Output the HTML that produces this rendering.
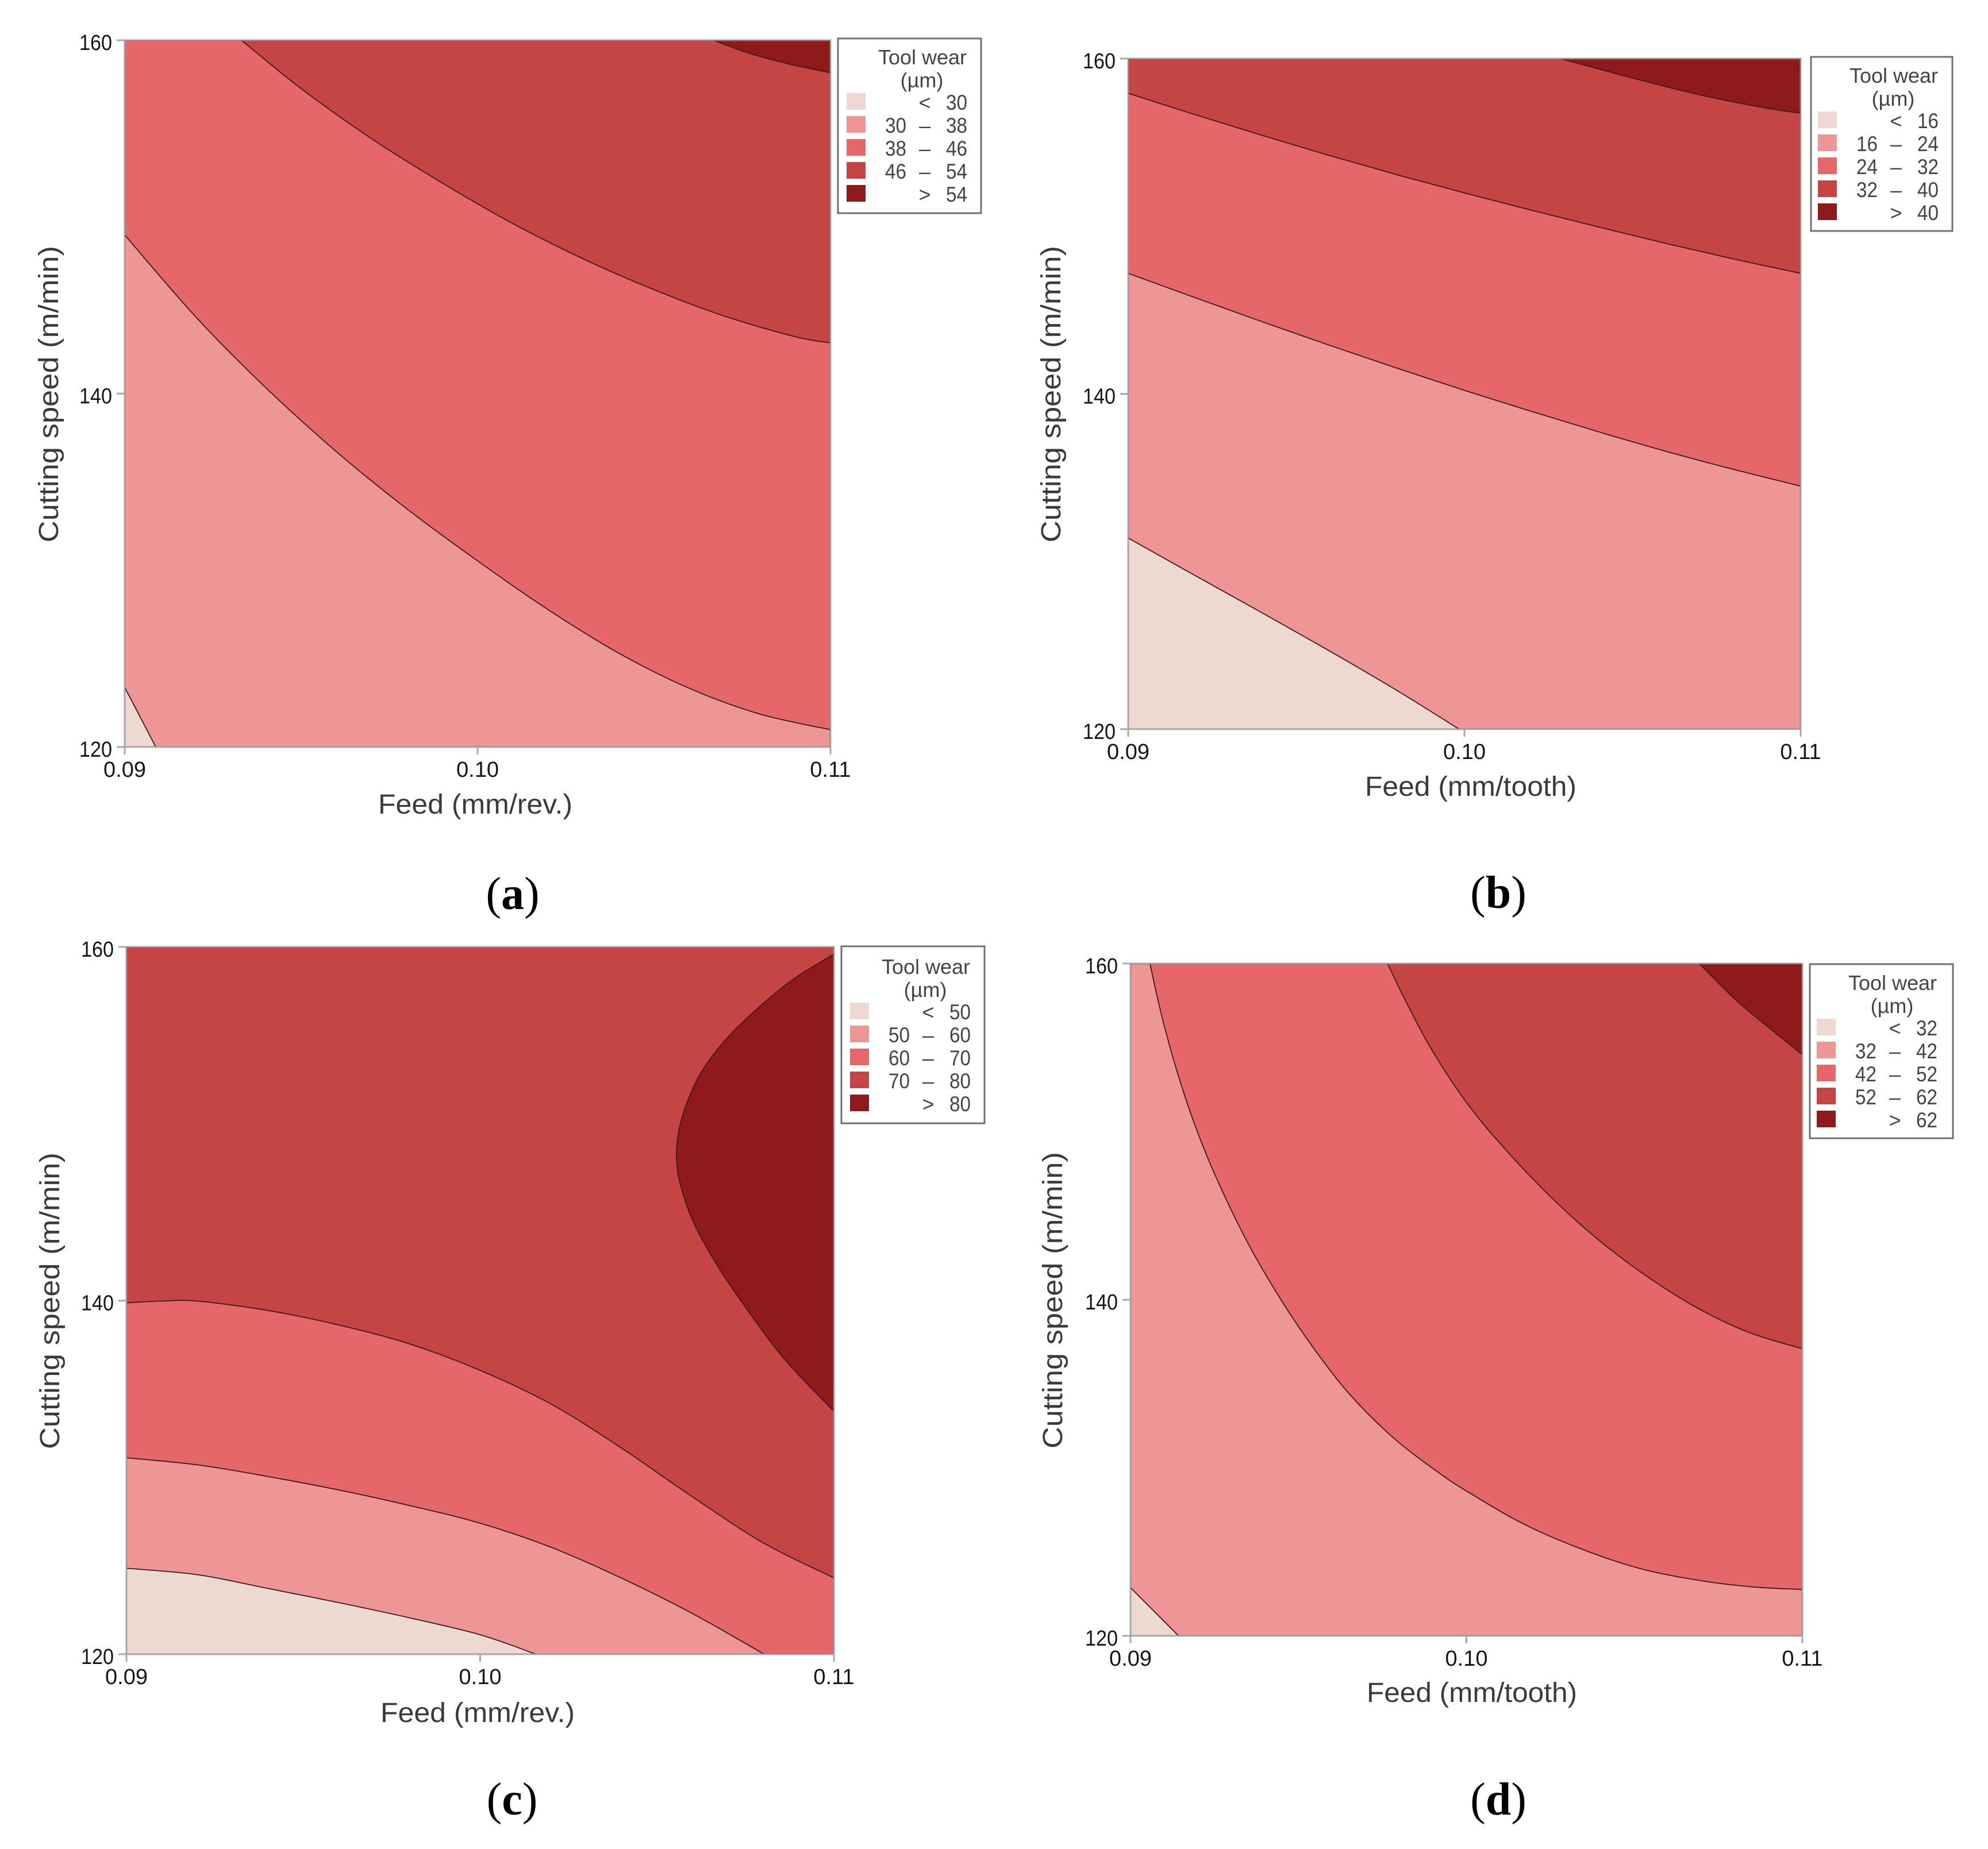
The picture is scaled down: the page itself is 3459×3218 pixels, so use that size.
<!DOCTYPE html>
<html lang="en">
<head>
<meta charset="utf-8">
<title>Tool wear contour plots</title>
<style>
html,body{margin:0;padding:0;background:#fff;}
svg{display:block;}
text{font-family:"Liberation Sans",sans-serif;}
</style>
</head>
<body>
<svg id="figure" xmlns="http://www.w3.org/2000/svg" width="3459" height="3218" viewBox="0 0 3459 3218"></svg>
<script>
/* shared axes data */
const feedTicks = [0.09, 0.10, 0.11];
const feedTickLabels = ["0.09", "0.10", "0.11"];
const speedTicks = [120, 140, 160];
const speedTickLabels = ["120", "140", "160"];

/* panel (a) contours: feed (mm/rev.) and cutting speed (m/min) */
const aBreaks = [30, 38, 46, 54];
const aFeed1 = [0.09, 0.09088];
const aSpeed1 = [123.37, 120];
const aFeed2 = [0.09, 0.092, 0.094, 0.096, 0.098, 0.100, 0.102, 0.104, 0.106, 0.108, 0.11];
const aSpeed2 = [148.98, 144.37, 140.33, 136.71, 133.47, 130.53, 127.77, 125.31, 123.32, 121.86, 120.98];
const aFeed3 = [0.09331, 0.095, 0.097, 0.099, 0.101, 0.103, 0.105, 0.107, 0.109, 0.11];
const aSpeed3 = [160, 157.26, 154.42, 151.92, 149.62, 147.62, 145.88, 144.38, 143.22, 142.87];
const aFeed4 = [0.10669, 0.10768, 0.10894, 0.11];
const aSpeed4 = [160, 159.27, 158.60, 158.16];

/* panel (b) contours */
const bBreaks = [16, 24, 32, 40];
const bFeed1 = [0.09, 0.092, 0.094, 0.096, 0.098, 0.09984];
const bSpeed1 = [131.40, 129.15, 126.92, 124.65, 122.30, 120];
const bFeed2 = [0.09, 0.092, 0.094, 0.096, 0.098, 0.100, 0.102, 0.104, 0.106, 0.108, 0.11];
const bSpeed2 = [147.19, 145.73, 144.29, 142.89, 141.53, 140.21, 138.95, 137.73, 136.57, 135.50, 134.50];
const bFeed3 = [0.09, 0.092, 0.094, 0.096, 0.098, 0.100, 0.102, 0.104, 0.106, 0.108, 0.11];
const bSpeed3 = [157.93, 156.65, 155.41, 154.21, 153.07, 151.99, 150.95, 149.95, 148.97, 148.05, 147.19];
const bFeed4 = [0.10286, 0.105, 0.107, 0.109, 0.11];
const bSpeed4 = [160, 158.84, 157.84, 157.04, 156.75];

/* panel (c) contours */
const cBreaks = [50, 60, 70, 80];
const cFeed1 = [0.09, 0.092, 0.094, 0.096, 0.098, 0.100, 0.10158];
const cSpeed1 = [124.86, 124.50, 123.72, 122.92, 122.06, 121.10, 120];
const cFeed2 = [0.09, 0.092, 0.094, 0.096, 0.098, 0.100, 0.102, 0.104, 0.106, 0.10803];
const cSpeed2 = [131.11, 130.71, 130.05, 129.29, 128.41, 127.41, 126.05, 124.30, 122.30, 120];
const cFeed3 = [0.09, 0.091, 0.092, 0.094, 0.096, 0.098, 0.100, 0.102, 0.104, 0.106, 0.108, 0.11];
const cSpeed3 = [139.87, 139.97, 139.97, 139.44, 138.62, 137.55, 136.05, 134.15, 131.65, 128.90, 126.30, 124.32];
const cFeed4 = [0.11, 0.10883, 0.10785, 0.10695, 0.10624, 0.10582, 0.10561, 0.10555, 0.10564, 0.10600, 0.10668, 0.10758, 0.10865, 0.11];
const cSpeed4 = [159.60, 158.14, 156.54, 154.78, 152.88, 151.05, 149.55, 148.22, 146.72, 144.56, 142.06, 139.40, 136.57, 133.74];

/* panel (d) contours */
const dBreaks = [32, 42, 52, 62];
const dFeed1 = [0.09, 0.09143];
const dSpeed1 = [122.87, 120];
const dFeed2 = [0.09058, 0.09090, 0.09134, 0.09190, 0.09256, 0.09351, 0.09445, 0.09539, 0.09652, 0.09784, 0.09916, 0.10001, 0.10161, 0.10331, 0.10519, 0.10708, 0.10859, 0.11];
const dSpeed2 = [160, 157.13, 153.88, 150.48, 147.23, 143.31, 140.09, 137.29, 134.38, 131.76, 129.73, 128.61, 126.75, 125.25, 123.99, 123.25, 122.90, 122.76];
const dFeed3 = [0.09765, 0.09822, 0.09897, 0.10001, 0.10105, 0.10237, 0.10387, 0.10538, 0.10689, 0.10840, 0.11];
const dSpeed3 = [160, 157.66, 154.86, 151.71, 149.19, 146.39, 143.66, 141.38, 139.49, 138.06, 137.08];
const dFeed4 = [0.10693, 0.10802, 0.10896, 0.11];
const dSpeed4 = [160, 157.83, 156.26, 154.58];

const levelColors = ["#eed8d2", "#ee9595", "#e5676a", "#c54444", "#8f1a1c"];
const SVGNS = "http://www.w3.org/2000/svg";
const root = document.getElementById("figure");

function mk(parent, tag, attrs, name, label) {
  const el = document.createElementNS(SVGNS, tag);
  for (const k in attrs) el.setAttribute(k, attrs[k]);
  
  
  if (label !== undefined) el.textContent = label;
  parent.appendChild(el);
  return el;
}

function smoothPath(pts) {
  let d = "M" + pts[0][0].toFixed(1) + " " + pts[0][1].toFixed(1);
  for (let i = 0; i < pts.length - 1; i++) {
    const p0 = pts[Math.max(0, i - 1)], p1 = pts[i], p2 = pts[i + 1], p3 = pts[Math.min(pts.length - 1, i + 2)];
    const c1x = p1[0] + (p2[0] - p0[0]) / 6, c1y = p1[1] + (p2[1] - p0[1]) / 6;
    const c2x = p2[0] - (p3[0] - p1[0]) / 6, c2y = p2[1] - (p3[1] - p1[1]) / 6;
    d += "C" + c1x.toFixed(1) + " " + c1y.toFixed(1) + " " + c2x.toFixed(1) + " " + c2y.toFixed(1) + " " + p2[0].toFixed(1) + " " + p2[1].toFixed(1);
  }
  return d;
}

function drawPanel(p) {
  const g = mk(root, "g", {}, "panel-" + p.id);
  const xScale = v => p.left + (v - 0.09) / 0.02 * (p.right - p.left);
  const yScale = v => p.bottom - (v - 120) / 40 * (p.bottom - p.top);

  const clip = document.createElementNS(SVGNS, "clipPath");
  clip.setAttribute("id", "clip-" + p.id);
  const clipRect = document.createElementNS(SVGNS, "rect");
  clipRect.setAttribute("x", p.left);
  clipRect.setAttribute("y", p.top);
  clipRect.setAttribute("width", p.right - p.left);
  clipRect.setAttribute("height", p.bottom - p.top);
  clip.appendChild(clipRect);
  g.appendChild(clip);

  mk(g, "rect", {x: p.left, y: p.top, width: p.right - p.left, height: p.bottom - p.top, fill: levelColors[p.base]}, "contour-background-" + p.id);
  const marks = mk(g, "g", {"clip-path": "url(#clip-" + p.id + ")"}, "contour-regions-" + p.id);

  p.regions.forEach((r, i) => {
    const pts = r.feed.map((f, j) => [xScale(f), yScale(r.speed[j])]);
    const line = smoothPath(pts);
    const close = r.close.map(c => "L" + xScale(c[0]).toFixed(1) + " " + yScale(c[1]).toFixed(1)).join("");
    mk(marks, "path", {d: line + close + "Z", fill: levelColors[r.level], stroke: "none"}, "contour-region-" + p.id + "-" + i);
    r.line = line;
  });
  p.regions.forEach((r, i) => {
    mk(marks, "path", {d: r.line, fill: "none", stroke: "#3a1c1c", "stroke-width": 1.8}, "contour-line-" + p.id + "-" + i);
  });

  mk(g, "rect", {x: p.left, y: p.top, width: p.right - p.left, height: p.bottom - p.top, fill: "none", stroke: "#8f8f8f", "stroke-opacity": 0.75, "stroke-width": 3}, "plot-frame-" + p.id);

  feedTicks.forEach((t, i) => {
    const x = xScale(t);
    mk(g, "line", {x1: x, x2: x, y1: p.bottom, y2: p.bottom + 13, stroke: "#a8a8a8", "stroke-width": 3}, "x-tick-" + p.id);
    mk(g, "text", {x: x, y: p.bottom + 52, "text-anchor": "middle", "font-size": 38, fill: "#151515"}, "x-tick-label-" + p.id, feedTickLabels[i]);
  });
  speedTicks.forEach((t, i) => {
    const y = yScale(t);
    mk(g, "line", {x1: p.left - 14, x2: p.left, y1: y, y2: y, stroke: "#a8a8a8", "stroke-width": 3}, "y-tick-" + p.id);
    mk(g, "text", {x: p.left - 22, y: y + 17, "text-anchor": "end", "font-size": 38, fill: "#151515", textLength: 57, lengthAdjust: "spacingAndGlyphs"}, "y-tick-label-" + p.id, speedTickLabels[i]);
  });

  mk(g, "text", {x: p.xTitleX, y: p.xTitleY, "text-anchor": "middle", "font-size": 48, fill: "#3a3a3a", textLength: p.xTitleLen, lengthAdjust: "spacingAndGlyphs"}, "x-axis-title-" + p.id, p.xTitle);
  mk(g, "text", {x: 0, y: 0, transform: "translate(" + p.yTitleX + " " + p.yTitleY + ") rotate(-90)", "text-anchor": "middle", "font-size": 48, fill: "#3a3a3a", textLength: 516, lengthAdjust: "spacingAndGlyphs"}, "y-axis-title-" + p.id, "Cutting speed (m/min)");

  /* legend */
  const lg = mk(g, "g", {}, "legend-" + p.id);
  mk(lg, "rect", {x: p.lgL, y: p.lgT, width: p.lgW, height: p.lgH, fill: "#fff", stroke: "#707070", "stroke-width": 3}, "legend-box-" + p.id);
  const L = p.lgL, T = p.lgT + p.lgDy, dx = p.lgDx;
  mk(lg, "text", {x: L + 144 + dx, y: T + 45, "text-anchor": "middle", "font-size": 36, fill: "#444"}, "legend-title-" + p.id, "Tool wear");
  mk(lg, "text", {x: L + 143 + dx, y: T + 85, "text-anchor": "middle", "font-size": 36, fill: "#444"}, "legend-unit-" + p.id, "(µm)");
  const b = p.breaks;
  levelColors.forEach((col, i) => {
    const yb = T + 124 + 40 * i;
    mk(lg, "rect", {x: L + 12 + dx, y: T + 95 + 40 * i, width: 33, height: 29, fill: col}, "legend-swatch-" + p.id + "-" + i);
    let right, mid, leftNum = null;
    if (i === 0) { mid = "<"; right = b[0]; }
    else if (i === 4) { mid = ">"; right = b[3]; }
    else { mid = "–"; leftNum = b[i - 1]; right = b[i]; }
    mk(lg, "text", {x: L + 222 + dx, y: yb, "text-anchor": "end", "font-size": 37, fill: "#444", textLength: 37, lengthAdjust: "spacingAndGlyphs"}, "legend-upper-" + p.id + "-" + i, String(right));
    mk(lg, "text", {x: L + 148 + dx, y: yb, "text-anchor": "middle", "font-size": 36, fill: "#444"}, "legend-symbol-" + p.id + "-" + i, mid);
    if (leftNum !== null) {
      mk(lg, "text", {x: L + 116 + dx, y: yb, "text-anchor": "end", "font-size": 37, fill: "#444", textLength: 37, lengthAdjust: "spacingAndGlyphs"}, "legend-lower-" + p.id + "-" + i, String(leftNum));
    }
  });

  /* caption */
  const cap = mk(g, "text", {x: p.capX, y: p.capY, "text-anchor": "middle", "font-size": 80, fill: "#000", style: 'font-family:"Liberation Serif",serif'}, "panel-caption-" + p.id);
  const t1 = document.createElementNS(SVGNS, "tspan"); t1.textContent = "(";
  const t2 = document.createElementNS(SVGNS, "tspan"); t2.setAttribute("font-weight", "bold"); t2.textContent = p.id;
  const t3 = document.createElementNS(SVGNS, "tspan"); t3.textContent = ")";
  cap.appendChild(t1); cap.appendChild(t2); cap.appendChild(t3);
}

drawPanel({
  id: "a", left: 217, right: 1445, top: 70, bottom: 1300, base: 1, breaks: aBreaks,
  xTitle: "Feed (mm/rev.)", xTitleX: 827, xTitleY: 1416, xTitleLen: 338, yTitleX: 101, yTitleY: 686,
  lgL: 1458, lgT: 67, lgW: 249, lgH: 304, lgDx: 3, lgDy: 0, capX: 892, capY: 1582,
  regions: [
    {level: 2, feed: aFeed2, speed: aSpeed2, close: [[0.11, 160], [0.09, 160]]},
    {level: 3, feed: aFeed3, speed: aSpeed3, close: [[0.11, 160]]},
    {level: 4, feed: aFeed4, speed: aSpeed4, close: [[0.11, 160]]},
    {level: 0, feed: aFeed1, speed: aSpeed1, close: [[0.09, 120]]}
  ]
});
drawPanel({
  id: "b", left: 1963, right: 3133, top: 102, bottom: 1269, base: 1, breaks: bBreaks,
  xTitle: "Feed (mm/tooth)", xTitleX: 2559, xTitleY: 1385, xTitleLen: 368, yTitleX: 1845, yTitleY: 686,
  lgL: 3151, lgT: 99, lgW: 246, lgH: 303, lgDx: 0, lgDy: 0, capX: 2607, capY: 1580,
  regions: [
    {level: 2, feed: bFeed2, speed: bSpeed2, close: [[0.11, 160], [0.09, 160]]},
    {level: 3, feed: bFeed3, speed: bSpeed3, close: [[0.11, 160], [0.09, 160]]},
    {level: 4, feed: bFeed4, speed: bSpeed4, close: [[0.11, 160]]},
    {level: 0, feed: bFeed1, speed: bSpeed1, close: [[0.09, 120]]}
  ]
});
drawPanel({
  id: "c", left: 220, right: 1451, top: 1648, bottom: 2879, base: 3, breaks: cBreaks,
  xTitle: "Feed (mm/rev.)", xTitleX: 831, xTitleY: 2997, xTitleLen: 338, yTitleX: 103, yTitleY: 2264,
  lgL: 1464, lgT: 1647, lgW: 249, lgH: 308, lgDx: 3, lgDy: 3, capX: 891, capY: 3158,
  regions: [
    {level: 4, feed: cFeed4, speed: cSpeed4, close: []},
    {level: 2, feed: cFeed3, speed: cSpeed3, close: [[0.11, 120], [0.09, 120]]},
    {level: 1, feed: cFeed2, speed: cSpeed2, close: [[0.09, 120]]},
    {level: 0, feed: cFeed1, speed: cSpeed1, close: [[0.09, 120]]}
  ]
});
drawPanel({
  id: "d", left: 1967, right: 3136, top: 1677, bottom: 2847, base: 1, breaks: dBreaks,
  xTitle: "Feed (mm/tooth)", xTitleX: 2561, xTitleY: 2962, xTitleLen: 366, yTitleX: 1848, yTitleY: 2263,
  lgL: 3149, lgT: 1678, lgW: 249, lgH: 303, lgDx: 0, lgDy: 0, capX: 2607, capY: 3158,
  regions: [
    {level: 2, feed: dFeed2, speed: dSpeed2, close: [[0.11, 160]]},
    {level: 3, feed: dFeed3, speed: dSpeed3, close: [[0.11, 160]]},
    {level: 4, feed: dFeed4, speed: dSpeed4, close: [[0.11, 160]]},
    {level: 0, feed: dFeed1, speed: dSpeed1, close: [[0.09, 120]]}
  ]
});
</script>
</body>
</html>
